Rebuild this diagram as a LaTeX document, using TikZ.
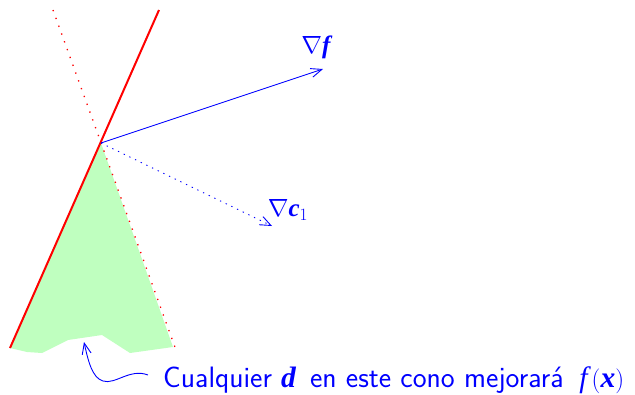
\documentclass[tikz,border=0pt]{standalone}
\usepackage{amsmath}
\usepackage{fontspec}
\newfontfamily\tms{Liberation Serif}
\newcommand{\bivar}[1]{\text{\tms\bfseries\itshape #1}}
\newcommand{\itvar}[1]{\text{\tms\itshape #1}}
\usetikzlibrary{arrows.meta}
\begin{document}
\begin{tikzpicture}[x=1pt,y=-1pt,
  barb/.style={-{Straight Barb[length=11pt,width=9pt]}},
  lbl/.style={text=blue,inner sep=0pt},
  every node/.style={font=\fontsize{25}{29}\selectfont}]
\useasboundingbox (0,0) rectangle (635,394);
\coordinate (apex) at (101,143);
\coordinate (s1) at (159,10);
\coordinate (s2) at (10,348);
\coordinate (d1) at (53,10);
\coordinate (d2) at (176,350);
\fill[fill={rgb,255:red,191;green,255;blue,191}]
  (apex) -- (s2) -- (27,352) -- (42,353) -- (68,340) -- (102,335) -- (130,353) -- (173,347) -- cycle;
\draw[red,line width=2pt] (s1) -- (s2);
\draw[red,line width=1.3pt,dash pattern=on 1.3pt off 7pt] (d1) -- (d2);
\coordinate (gf) at (323,69);
\coordinate (gc) at (272,226);
\draw[blue,line width=0.9pt,barb] (apex) -- (gf);
\draw[blue,line width=0.9pt,dash pattern=on 1.3pt off 5pt,barb] (apex) -- (gc);
\node[lbl] (lf) at (316,47) {$\nabla\bivar{f}$};
\node[lbl] (lc) at (288,210) {$\nabla\bivar{c}_1$};
\node[lbl,anchor=west,font=\fontsize{29.5}{33}\sffamily] (txt) at (163,380) {Cualquier $\bivar{d}$\, en este cono mejorará\: $\itvar{f}\,(\bivar{x})$};
\coordinate (tip) at (84,342);
\draw[blue,line width=0.9pt,barb] (txt.west) ++(-15,-5) coordinate (st)
  .. controls (130,368) and (115,385) .. (103,381)
  .. controls (92,378) and (88,360) .. (tip);
\end{tikzpicture}
\end{document}
